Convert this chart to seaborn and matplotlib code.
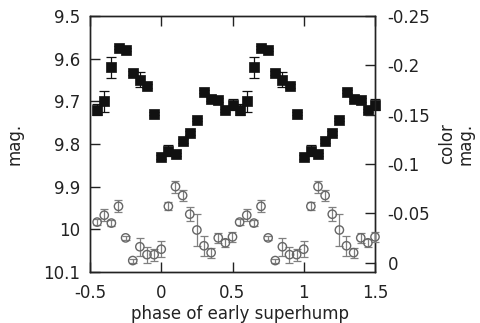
import numpy as np
import pandas as pd
import matplotlib
matplotlib.use("Agg")
import matplotlib.pyplot as plt
from matplotlib.ticker import FuncFormatter
import seaborn as sns

sns.set_style("ticks")
plt.rcParams["font.family"] = ["DejaVu Sans"]
plt.rcParams["axes.unicode_minus"] = False

# one cycle of the early superhump, phase -0.45 .. 0.50 (repeated +1 below)
phase = [-0.45, -0.40, -0.35, -0.30, -0.25, -0.20, -0.15, -0.10, -0.05, 0.00,
         0.05, 0.10, 0.15, 0.20, 0.25, 0.30, 0.35, 0.40, 0.45, 0.50]
mag = [9.720, 9.700, 9.620, 9.574, 9.579, 9.633, 9.649, 9.664, 9.729, 9.830,
       9.816, 9.824, 9.793, 9.774, 9.743, 9.677, 9.695, 9.697, 9.721, 9.708]
mag_err = [0.013, 0.024, 0.025, 0.004, 0.004, 0.005, 0.018, 0.004, 0.004, 0.004,
           0.013, 0.004, 0.004, 0.004, 0.004, 0.004, 0.004, 0.004, 0.004, 0.013]
color = [-0.041, -0.048, -0.040, -0.057, -0.025, -0.002, -0.016, -0.008, -0.008, -0.0135,
         -0.057, -0.077, -0.068, -0.049, -0.033, -0.017, -0.010, -0.025, -0.020, -0.026]
color_err = [0.003, 0.006, 0.003, 0.006, 0.002, 0.002, 0.009, 0.008, 0.006, 0.008,
             0.004, 0.006, 0.006, 0.007, 0.016, 0.010, 0.005, 0.005, 0.004, 0.005]

base = pd.DataFrame({"phase": phase, "mag": mag, "mag_err": mag_err,
                     "color": color, "color_err": color_err})
shifted = base.copy()
shifted["phase"] = shifted["phase"] + 1.0
df = pd.concat([base, shifted], ignore_index=True)

fig = plt.figure(figsize=(4.81, 3.23), dpi=100)
ax = fig.add_axes([90 / 481, 1 - 272 / 323, 285 / 481, 256 / 323])
ax2 = ax.twinx()

# magnitude (left axis)
ax.errorbar(df["phase"], df["mag"], yerr=df["mag_err"], fmt="none",
            ecolor="#111111", elinewidth=0.9, capsize=3.5, capthick=0.9,
            clip_on=False, zorder=3)
sns.scatterplot(data=df, x="phase", y="mag", ax=ax, marker="s", s=52,
                color="#111111", edgecolor="#111111", linewidth=0.5,
                clip_on=False, zorder=4, legend=False)

# color (right axis)
ax2.errorbar(df["phase"], df["color"], yerr=df["color_err"], fmt="none",
             ecolor="#808080", elinewidth=0.9, capsize=2.8, capthick=0.9,
             clip_on=False, zorder=3)
sns.scatterplot(data=df, x="phase", y="color", ax=ax2, marker="o", s=36,
                facecolor="none", edgecolor="#666666", linewidth=1.0,
                clip_on=False, zorder=4, legend=False)

ax.set_xlim(-0.5, 1.5)
ax.set_ylim(10.1, 9.5)
ax2.set_ylim(0.0096, -0.25)

fmt = FuncFormatter(lambda v, p: "%g" % round(v, 3))
ax.set_xticks(np.arange(-0.5, 1.51, 0.5))
ax.set_yticks(np.arange(9.5, 10.11, 0.1))
ax2.set_yticks([-0.25, -0.2, -0.15, -0.1, -0.05, 0.0])
ax.xaxis.set_major_formatter(fmt)
ax.yaxis.set_major_formatter(fmt)
ax2.yaxis.set_major_formatter(fmt)

ax.tick_params(axis="x", direction="in", length=7, width=1, top=True,
               labelsize=12, pad=9, colors="#222222")
ax.tick_params(axis="y", direction="in", length=7, width=1, right=False,
               labelsize=12, pad=7, colors="#222222")
ax2.tick_params(axis="y", direction="in", length=7, width=1,
                labelsize=12, pad=9, colors="#222222")

for a in (ax, ax2):
    for s in a.spines.values():
        s.set_visible(True)
        s.set_linewidth(1.0)
        s.set_color("#222222")

ax.set_xlabel("phase of early superhump", fontsize=12, color="#222222", labelpad=1)
ax.xaxis.set_label_coords(0.525, -0.13)
ax.set_ylabel("mag.", fontsize=12, color="#222222", labelpad=14)
ax2.set_ylabel("color\nmag.", fontsize=12, color="#222222", labelpad=6,
               linespacing=1.0)

fig.savefig("out.png", dpi=100)
